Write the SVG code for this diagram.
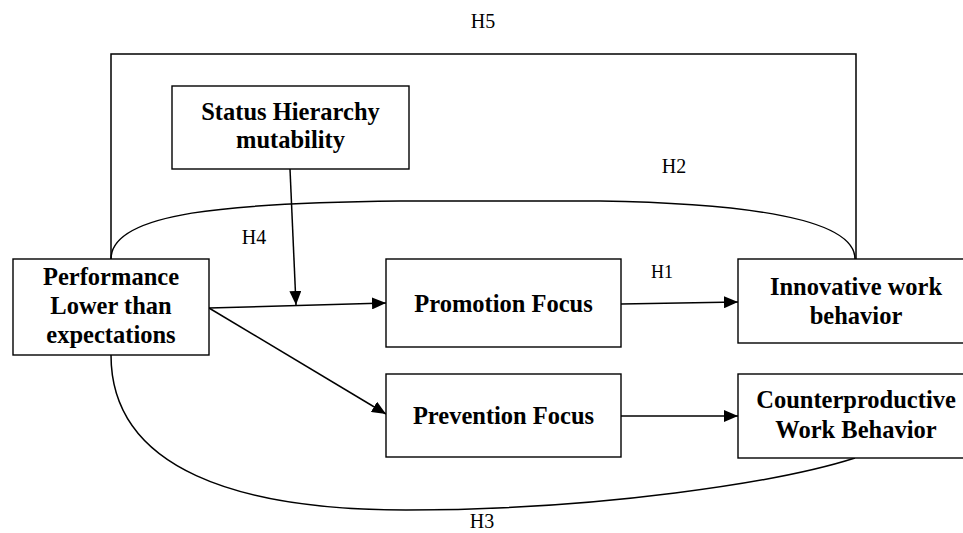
<svg xmlns="http://www.w3.org/2000/svg" width="963" height="533" viewBox="0 0 963 533">
<style>
.box{fill:#fff;stroke:#000;stroke-width:1.4}
.t{font-family:"Liberation Serif","Times New Roman",serif;font-weight:bold;font-size:24.5px;text-anchor:middle;fill:#000}
.l{font-family:"Liberation Serif","Times New Roman",serif;font-size:20px;text-anchor:middle;fill:#000}
.c{fill:none;stroke:#000;stroke-width:1.5}
</style>
<defs>
<marker id="ah" markerUnits="userSpaceOnUse" markerWidth="14" markerHeight="12" viewBox="0 0 14 12" refX="14" refY="6" orient="auto">
<path d="M0,0 L14,6 L0,12 Z" fill="#000"/>
</marker>
</defs>
<g id="connectors">
<path class="c" d="M111,259 V54 H856 V259"/>
<path class="c" d="M111,259 C111,212 230,203 400,201 L600,201 C780,204 855,225 855,259"/>
<path class="c" d="M111,355 C111,470 240,510 406,510 C600,510 780,482 855,458"/>
<path class="c" d="M209,308 L386,303" marker-end="url(#ah)"/>
<path class="c" d="M290,169 L296,305" marker-end="url(#ah)"/>
<path class="c" d="M209,308 L386,414" marker-end="url(#ah)"/>
<path class="c" d="M621,304 L738,302" marker-end="url(#ah)"/>
<path class="c" d="M621,416 L738,416" marker-end="url(#ah)"/>
</g>
<g id="labels">
<text class="l" x="483" y="28">H5</text>
<text class="l" x="674" y="173">H2</text>
<text class="l" x="662" y="278" style="font-size:18px">H1</text>
<text class="l" x="254" y="244">H4</text>
<text class="l" x="482" y="528">H3</text>
</g>
<g id="performance">
<rect class="box" x="13" y="259" width="196" height="96"/>
<text class="t" x="111" y="285">Performance</text>
<text class="t" x="111" y="314">Lower than</text>
<text class="t" x="111" y="343">expectations</text>
</g>
<g id="status">
<rect class="box" x="172" y="86" width="237" height="83"/>
<text class="t" x="290.5" y="120">Status Hierarchy</text>
<text class="t" x="290.5" y="148">mutability</text>
</g>
<g id="promotion">
<rect class="box" x="386" y="259" width="235" height="88"/>
<text class="t" x="503.5" y="312">Promotion Focus</text>
</g>
<g id="prevention">
<rect class="box" x="386" y="374" width="235" height="83"/>
<text class="t" x="503.5" y="424">Prevention Focus</text>
</g>
<g id="innovative">
<rect class="box" x="738" y="259" width="236" height="84"/>
<text class="t" x="856" y="295">Innovative work</text>
<text class="t" x="856" y="324">behavior</text>
</g>
<g id="counterproductive">
<rect class="box" x="738" y="374" width="236" height="84"/>
<text class="t" x="856" y="408">Counterproductive</text>
<text class="t" x="856" y="438">Work Behavior</text>
</g>
</svg>
